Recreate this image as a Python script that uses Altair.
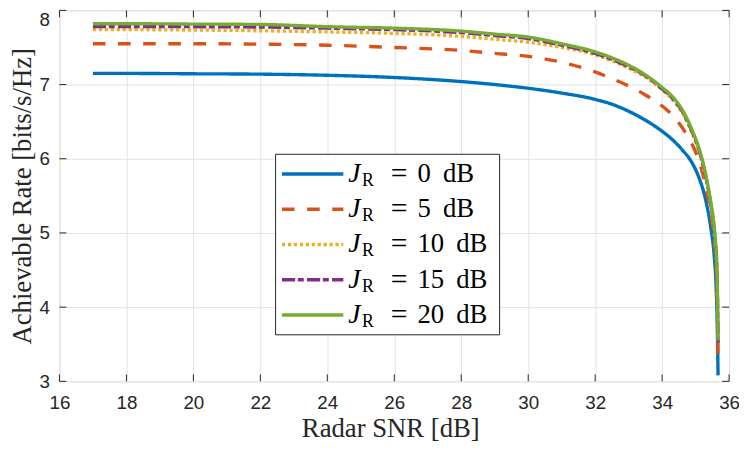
import altair as alt
import pandas as pd

# ---------------- data ----------------
snr_db = [17.0, 18, 20, 22, 24, 26, 28, 29, 30, 31, 32, 32.5, 33, 33.5, 34,
          34.3, 34.6, 34.9, 35.1, 35.3, 35.45, 35.55, 35.6, 35.63, 35.65, 35.67]

rate_0 = [7.15, 7.15, 7.145, 7.14, 7.125, 7.095, 7.04, 7.00, 6.95, 6.885, 6.80, 6.735,
          6.64, 6.52, 6.37, 6.26, 6.12, 5.94, 5.745, 5.445, 5.08, 4.72, 4.40, 4.05, 3.68, 3.08]
rate_5 = [7.55, 7.55, 7.55, 7.545, 7.53, 7.50, 7.46, 7.42, 7.38, 7.30, 7.17, 7.08,
          6.98, 6.86, 6.71, 6.59, 6.42, 6.19, 5.97, 5.63, 5.27, 4.94, 4.65, 4.33, 3.97, 3.32]
rate_10 = [7.74, 7.74, 7.735, 7.725, 7.71, 7.69, 7.65, 7.61, 7.57, 7.50, 7.40, 7.32,
           7.22, 7.10, 6.93, 6.80, 6.62, 6.34, 6.10, 5.75, 5.37, 5.03, 4.77, 4.52, 4.15, 3.48]
rate_15 = [7.78, 7.78, 7.78, 7.775, 7.76, 7.74, 7.70, 7.66, 7.62, 7.53, 7.42, 7.34,
           7.24, 7.12, 6.94, 6.82, 6.64, 6.36, 6.12, 5.77, 5.40, 5.07, 4.81, 4.56, 4.20, 3.52]
rate_20 = [7.82, 7.82, 7.815, 7.81, 7.78, 7.76, 7.72, 7.68, 7.64, 7.55, 7.44, 7.36,
           7.26, 7.13, 6.96, 6.84, 6.66, 6.38, 6.14, 5.79, 5.42, 5.10, 4.85, 4.60, 4.25, 3.55]

jr_values = ["0 dB", "5 dB", "10 dB", "15 dB", "20 dB"]
series = [rate_0, rate_5, rate_10, rate_15, rate_20]

x_ticks = [16, 18, 20, 22, 24, 26, 28, 30, 32, 34, 36]
y_ticks = [3, 4, 5, 6, 7, 8]

# ---------------- styles ----------------
colors = ["#0072BD", "#D95319", "#EDB120", "#7E2F8E", "#77AC30"]
dashes = [[1, 0], [12.7, 12.7], [3.3, 2.7], [13.3, 2.7, 6, 3.3], [1, 0]]
W, H = 677, 375
AX = "#262626"
SERIF = "Liberation Serif"
SANS = "Liberation Sans"

xscale = alt.Scale(domain=[16, 36], nice=False, zero=False)
yscale = alt.Scale(domain=[3, 8], nice=False, zero=False)

xaxis = alt.Axis(values=x_ticks, title="Radar SNR [dB]", grid=True, ticks=False,
                 domain=False, labelPadding=13, labelFont=SANS, labelFontSize=19,
                 labelColor=AX, titleFont=SERIF, titleFontSize=27, titleFontWeight="normal",
                 titleColor=AX, titleBaseline="alphabetic", titleY=56, titleX=W / 2 - 4,
                 gridColor="#e3e3e3", gridWidth=1, labelFlush=False)
yaxis = alt.Axis(values=y_ticks, title="Achievable Rate [bits/s/Hz]", grid=True, ticks=False,
                 domain=False, labelPadding=10, labelFont=SANS, labelFontSize=19,
                 labelColor=AX,
                 labelBaseline={"condition": {"test": "datum.value >= 8", "value": "top"},
                                "value": "middle"},
                 titleFont=SERIF, titleFontSize=27, titleFontWeight="normal",
                 titleColor=AX, titleBaseline="alphabetic", titleX=-29, titleY=H / 2,
                 titleAngle=-90, gridColor="#e3e3e3", gridWidth=1, labelFlush=False)

X = alt.X("snr:Q", scale=xscale, axis=xaxis)
Y = alt.Y("rate:Q", scale=yscale, axis=yaxis)

layers = []

for i, vals in enumerate(series):
    df = pd.DataFrame({"snr": snr_db, "rate": vals})
    layers.append(
        alt.Chart(df).mark_line(strokeWidth=3.4, strokeCap="butt", strokeJoin="round",
                                interpolate="monotone",
                                color=colors[i], strokeDash=dashes[i]).encode(x=X, y=Y)
    )

# inward ticks on all four sides (MATLAB box style)
xt = pd.DataFrame({"snr": x_ticks})
yt = pd.DataFrame({"rate": y_ticks})
TL = 7
layers.append(alt.Chart(xt).mark_rule(color=AX, strokeWidth=1).encode(
    x=X, y=alt.value(H), y2=alt.value(H - TL)))
layers.append(alt.Chart(xt).mark_rule(color=AX, strokeWidth=1).encode(
    x=X, y=alt.value(0), y2=alt.value(TL)))
layers.append(alt.Chart(yt).mark_rule(color=AX, strokeWidth=1).encode(
    y=Y, x=alt.value(0), x2=alt.value(TL)))
layers.append(alt.Chart(yt).mark_rule(color=AX, strokeWidth=1).encode(
    y=Y, x=alt.value(W), x2=alt.value(W - TL)))

# legend box
LX0, LX1, LY0, LY1 = 218.5, 445, 145.5, 328
one = pd.DataFrame({"k": [0]})
layers.append(alt.Chart(one).mark_rect(fill="white", stroke=AX, strokeWidth=1).encode(
    x=alt.value(LX0), x2=alt.value(LX1), y=alt.value(LY0), y2=alt.value(LY1)))

for i, jr in enumerate(jr_values):
    ry = 165.5 + 35.6 * i
    lab = pd.DataFrame({"J": ["J"], "R": ["R"], "eq": ["="], "val": [jr.replace(" ", " \u2009")]})
    layers.append(alt.Chart(lab).mark_rule(strokeWidth=3.6, strokeCap="butt",
                                           color=colors[i], strokeDash=dashes[i]).encode(
        x=alt.value(225), x2=alt.value(287), y=alt.value(ry)))
    layers.append(alt.Chart(lab).mark_text(align="left", baseline="alphabetic", font=SERIF,
                                           fontSize=28, fontStyle="italic", color="black").encode(
        x=alt.value(292), y=alt.value(ry + 8), text="J:N"))
    layers.append(alt.Chart(lab).mark_text(align="left", baseline="alphabetic", font=SERIF,
                                           fontSize=18, color="black").encode(
        x=alt.value(306), y=alt.value(ry + 12), text="R:N"))
    layers.append(alt.Chart(lab).mark_text(align="center", baseline="alphabetic", font=SERIF,
                                           fontSize=30, color="black").encode(
        x=alt.value(343.5), y=alt.value(ry + 9), text="eq:N"))
    layers.append(alt.Chart(lab).mark_text(align="left", baseline="alphabetic", font=SERIF,
                                           fontSize=27, color="black").encode(
        x=alt.value(362), y=alt.value(ry + 8), text="val:N"))

chart = alt.layer(*layers).properties(
    width=W, height=H,
    autosize=alt.AutoSizeParams(type="none"),
    padding={"left": 52, "top": 0, "right": 10, "bottom": 61},
).configure_view(stroke=AX, strokeWidth=1).configure(background="white")

chart.save("out.html", embed_options={"renderer": "svg", "actions": False})
